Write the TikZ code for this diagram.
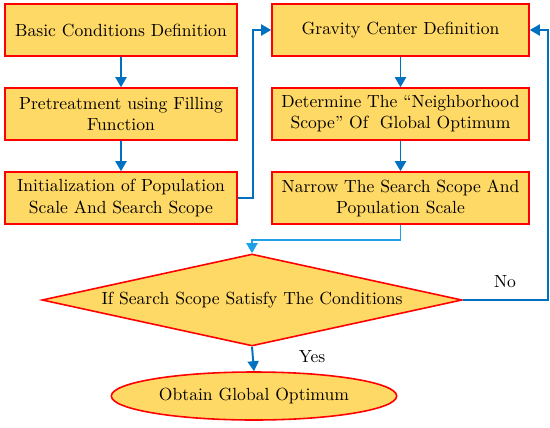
\documentclass[tikz,border=0pt]{standalone}
\usepackage{tikz}
\usetikzlibrary{positioning,shapes.geometric,arrows.meta}
\definecolor{Cgold}{RGB}{255,217,102}
\definecolor{Cred}{RGB}{255,0,0}
\definecolor{Cblue}{RGB}{0,112,192}
\definecolor{Clight}{RGB}{30,160,230}

\begin{document}
\begin{tikzpicture}[
      procbox/.style={draw=Cred, fill=Cgold, line width=0.9pt,
                      minimum height=1.04cm, align=center,
                      font=\fontsize{10}{12}\selectfont},
      leftbox/.style={procbox, minimum width=4.64cm},
      rightbox/.style={procbox, minimum width=5.14cm},
      decide/.style={diamond, draw=Cred, fill=Cgold, line width=0.9pt,
                     aspect=6, inner sep=0pt,
                     minimum width=8.4cm, minimum height=1.84cm,
                     font=\fontsize{10}{12}\selectfont},
      goal/.style={ellipse, draw=Cred, fill=Cgold, line width=0.9pt,
                   minimum width=5.5cm, minimum height=0.96cm,
                   font=\fontsize{10}{12}\selectfont},
      flow/.style={draw=Cblue, line width=1.1pt,
                   -{Triangle[length=2mm,width=2.2mm]}},
      lbl/.style={font=\fontsize{10}{12}\selectfont}]
    \useasboundingbox (0,0) rectangle (11,-8.54);
    % Coluna esquerda
    \node[leftbox] (B1) at (2.42,-0.60) {Basic Conditions Definition};
    \node[leftbox] (B2) at (2.42,-2.28) {Pretreatment using Filling\\Function};
    \node[leftbox] (B3) at (2.42,-3.96) {Initialization of Population\\Scale And Search Scope};
    % Coluna direita
    \node[rightbox] (G1) at (8.01,-0.60) {Gravity Center Definition};
    \node[rightbox] (G2) at (8.01,-2.28) {Determine The~``Neighborhood\\Scope''~Of~ Global Optimum};
    \node[rightbox] (G3) at (8.01,-3.96) {Narrow The Search Scope And\\Population Scale};
    % Decisao e fim
    \node[decide] (C) at (5.04,-6.00) {If Search Scope Satisfy The Conditions};
    \node[goal] (E) at (5.08,-7.92) {Obtain Global Optimum};
    \coordinate (loop) at (10.96,-6.00);
    % Setas
    \draw[flow] (B1) -- (B2);
    \draw[flow] (B2) -- (B3);
    \draw[flow] (B3.east) -- ++(0.3,0) |- (G1.west);
    \draw[flow] (G1) -- (G2);
    \draw[flow] (G2) -- (G3);
    \draw[flow, draw=Clight] (G3.south) -- ++(0,-0.3) -| (C.north);
    \draw[flow] (C.east) -- (loop) |- (G1.east);
    \draw[flow] (C.south) -- (E.north);
    % Rotulos
    \node[lbl] (no) at (10.1,-5.64) {No};
    \node[lbl] (yes) at (6.24,-7.14) {Yes};
  \end{tikzpicture}
\end{document}
